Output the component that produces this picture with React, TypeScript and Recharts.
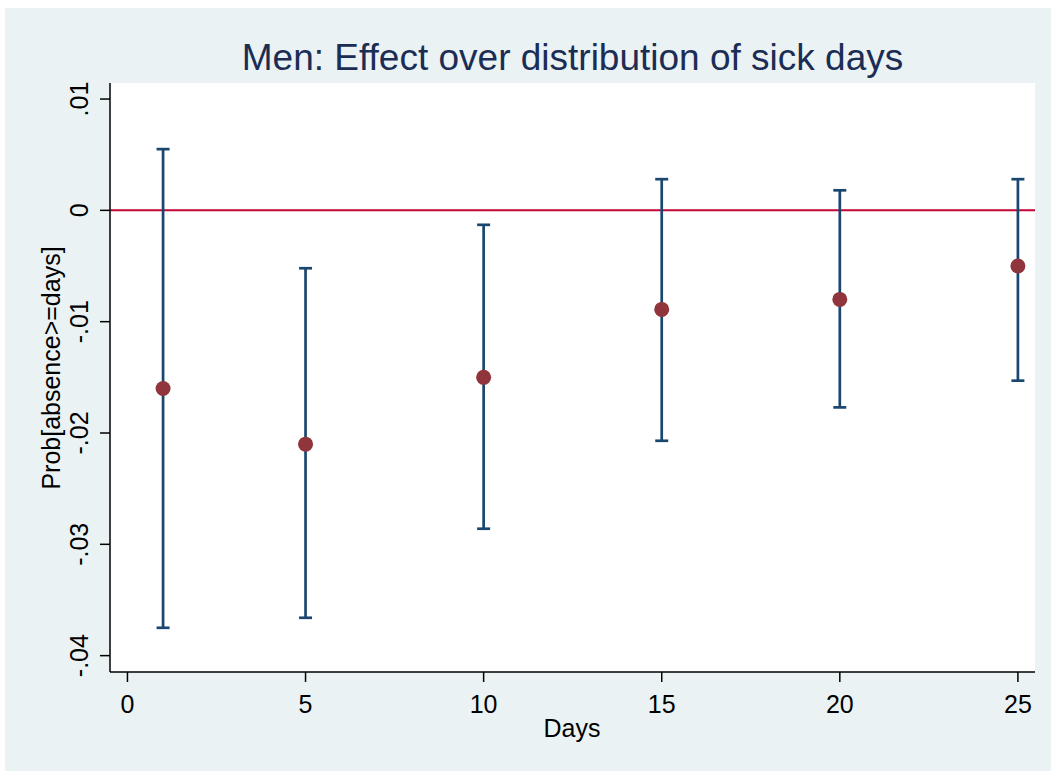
import React from "react";
import {
  ComposedChart,
  Scatter,
  ErrorBar,
  XAxis,
  YAxis,
  CartesianGrid,
  ReferenceLine,
} from "recharts";

const FONT = "'Liberation Sans', Arial, Helvetica, sans-serif";

const days = [1, 5, 10, 15, 20, 25];
const estimates = [-0.016, -0.021, -0.015, -0.0089, -0.008, -0.005];
const ciUpper = [0.0055, -0.0052, -0.0013, 0.0028, 0.0018, 0.0028];
const ciLower = [-0.0375, -0.0366, -0.0286, -0.0207, -0.0177, -0.0153];

const xTicks = [0, 5, 10, 15, 20, 25];
const yTicks = [0.01, 0, -0.01, -0.02, -0.03, -0.04];
const yTickLabels = [".01", "0", "-.01", "-.02", "-.03", "-.04"];

const data = days.map((d, i) => ({
  day: d,
  est: estimates[i],
  err: [estimates[i] - ciLower[i], ciUpper[i] - estimates[i]],
}));

function XTick(props: any) {
  const { x, y, payload } = props;
  return (
    <text x={x} y={y + 31} textAnchor="middle" fontSize={25} fontFamily={FONT} fill="#000">
      {payload.value}
    </text>
  );
}

function YTick(props: any) {
  const { x, y, payload } = props;
  const idx = yTicks.indexOf(payload.value);
  const label = idx >= 0 ? yTickLabels[idx] : String(payload.value);
  const tx = x - 11.5;
  return (
    <text
      x={tx}
      y={y}
      transform={`rotate(-90 ${tx} ${y})`}
      textAnchor="middle"
      fontSize={25}
      fontFamily={FONT}
      fill="#000"
    >
      {label}
    </text>
  );
}

const Dot = (props: any) => (
  <circle cx={props.cx} cy={props.cy} r={7.5} fill="#90353B" />
);
const NoDot = () => <g />;

export default function App() {
  return (
    <div
      style={{
        position: "absolute",
        left: 5,
        top: 8,
        width: 1046,
        height: 763,
        background: "#EAF2F3",
      }}
    >
      <div
        style={{
          position: "absolute",
          left: 105,
          width: 925,
          top: 31,
          textAlign: "center",
          fontFamily: FONT,
          fontSize: 37,
          lineHeight: "37px",
          color: "#1C2D55",
          whiteSpace: "nowrap",
        }}
      >
        Men: Effect over distribution of sick days
      </div>
      <div style={{ position: "absolute", left: 0, top: 0 }}>
        <ComposedChart
          width={1046}
          height={763}
          data={data}
          margin={{ top: 75, right: 16, left: 0, bottom: 0 }}
        >
          <rect x={105} y={75} width={925} height={589} fill="#fff" />
          <CartesianGrid
            horizontal={true}
            vertical={false}
            stroke="#EAF2F3"
            strokeWidth={2}
            fill="#fff"
          />
          <XAxis
            dataKey="day"
            type="number"
            domain={[-0.49, 25.48]}
            allowDataOverflow
            ticks={xTicks}
            tickSize={10}
            tickMargin={0}
            height={99}
            stroke="#000"
            strokeWidth={1.5}
            tick={<XTick />}
            label={() => (
              <text x={567} y={729} textAnchor="middle" fontSize={25} fontFamily={FONT} fill="#000">
                Days
              </text>
            )}
          />
          <YAxis
            type="number"
            domain={[-0.04147, 0.01144]}
            allowDataOverflow
            ticks={yTicks}
            tickSize={10}
            tickMargin={0}
            width={105}
            stroke="#000"
            strokeWidth={1.5}
            tick={<YTick />}
            label={() => (
              <text
                x={55}
                y={360}
                transform="rotate(-90 55 360)"
                textAnchor="middle"
                fontSize={25}
                fontFamily={FONT}
                fill="#000"
              >
                Prob[absence&gt;=days]
              </text>
            )}
          />
          <ReferenceLine y={0} stroke="#C10534" strokeWidth={2} />
          <Scatter dataKey="est" shape={NoDot} isAnimationActive={false}>
            <ErrorBar
              dataKey="err"
              direction="y"
              width={6.5}
              stroke="#1A476F"
              strokeWidth={2.7}
              isAnimationActive={false}
            />
          </Scatter>
          <Scatter dataKey="est" shape={Dot} isAnimationActive={false} />
        </ComposedChart>
      </div>
    </div>
  );
}
